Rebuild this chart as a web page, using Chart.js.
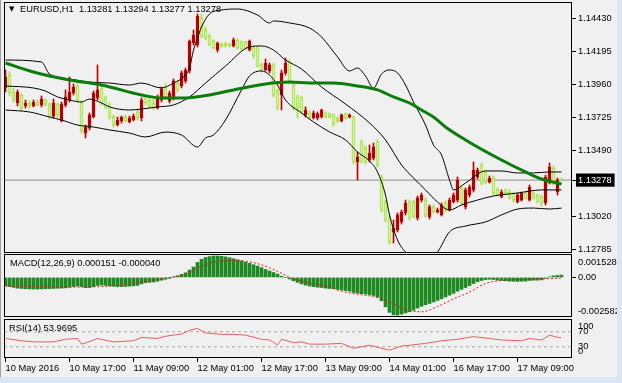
<!DOCTYPE html>
<html><head><meta charset="utf-8">
<script src="https://cdn.jsdelivr.net/npm/chart.js@4/dist/chart.umd.min.js"></script>
<style>
html,body{margin:0;padding:0;background:#f0f0f0;width:622px;height:383px;overflow:hidden;font-family:"Liberation Sans",Arial,sans-serif;}
canvas{position:absolute;left:0;}
.lbl{position:absolute;font-size:9.3px;color:#000;white-space:pre;line-height:11px;font-family:"Liberation Sans",Arial,sans-serif;}
#tri{position:absolute;left:9px;top:5px;font-size:7px;line-height:8px;font-family:"DejaVu Sans",sans-serif;color:#000;}
#rstrip{position:absolute;left:617px;top:0;width:5px;height:383px;background:#dbe6f4;}
#bstrip{position:absolute;left:0;top:377px;width:622px;height:6px;background:#dbe6f4;}
#lstrip{position:absolute;left:0;top:0;width:1px;height:377px;background:#a0a0a0;}
</style></head>
<body>
<canvas id="main" width="622" height="253" style="top:0px"></canvas>
<canvas id="macd" width="622" height="64" style="top:253px"></canvas>
<canvas id="rsi" width="622" height="61" style="top:317px"></canvas>
<div id="lstrip"></div><div id="rstrip"></div><div id="bstrip"></div>
<div id="tri">▼</div>
<div class="lbl" style="left:20px;top:4px">EURUSD,H1  1.13281 1.13294 1.13277 1.13278</div>
<div class="lbl" style="left:10px;top:258px">MACD(12,26,9) 0.000151 -0.000040</div>
<div class="lbl" style="left:9px;top:323px">RSI(14) 53.9695</div>
<script>
// ---------------- data ----------------
const timeLabels = ['10 May 2016','10 May 17:00','11 May 09:00','12 May 01:00','12 May 17:00','13 May 09:00','14 May 01:00','16 May 17:00','17 May 09:00'];
const timeTickBars = [0,16,32,48,64,80,96,112,128];
const priceTicks = [1.14430,1.14195,1.13960,1.13725,1.13490,1.13278,1.13020,1.12785];
const currentPrice = 1.13278;

const open = [
1.13934,1.14026,1.13905,1.13827,1.13884,1.13806,1.13827,1.13806,1.13834,1.13813,
1.13848,1.13813,1.13734,1.13820,1.13699,1.13813,1.13848,1.13898,1.13948,1.13827,
1.13613,1.13649,1.13727,1.13863,1.13934,1.13863,1.13813,1.13727,1.13670,1.13699,
1.13727,1.13692,1.13706,1.13763,1.13720,1.13863,1.13848,1.13827,1.13791,1.13848,
1.13948,1.13841,1.13863,1.13969,1.13948,1.13984,1.14055,1.14254,1.14240,1.14432,
1.14347,1.14304,1.14268,1.14204,1.14247,1.14247,1.14247,1.14233,1.14276,1.14261,
1.14261,1.14204,1.14219,1.14219,1.14098,1.14062,1.14055,1.14098,1.13912,1.13884,
1.14041,1.14119,1.13955,1.13870,1.13863,1.13742,1.13756,1.13720,1.13720,1.13727,
1.13756,1.13749,1.13742,1.13720,1.13699,1.13749,1.13727,1.13727,1.13407,1.13549,
1.13507,1.13421,1.13435,1.13549,1.13300,1.13122,1.13008,1.12909,1.12923,1.12980,
1.13044,1.13122,1.13122,1.13008,1.13136,1.13136,1.13015,1.13087,1.13051,1.13030,
1.13115,1.13065,1.13122,1.13136,1.13222,1.13087,1.13172,1.13208,1.13300,1.13386,
1.13336,1.13264,1.13293,1.13208,1.13158,1.13208,1.13193,1.13186,1.13122,1.13136,
1.13186,1.13136,1.13186,1.13172,1.13158,1.13115,1.13264,1.13364,1.13193,1.13281];
const high = [
1.14062,1.14048,1.13934,1.13920,1.13891,1.13848,1.13841,1.13848,1.13848,1.13877,
1.13855,1.13827,1.13855,1.13827,1.13834,1.13920,1.14012,1.13962,1.13962,1.13841,
1.13670,1.13756,1.13912,1.14098,1.13948,1.13877,1.13827,1.13742,1.13727,1.13734,
1.13742,1.13734,1.13749,1.13777,1.13863,1.13884,1.13877,1.13848,1.13884,1.13941,
1.13962,1.13912,1.13998,1.13984,1.14055,1.14076,1.14276,1.14347,1.14461,1.14461,
1.14368,1.14318,1.14276,1.14261,1.14254,1.14261,1.14254,1.14290,1.14283,1.14268,
1.14268,1.14276,1.14233,1.14226,1.14112,1.14140,1.14112,1.14112,1.13927,1.14062,
1.14147,1.14133,1.13969,1.13884,1.13877,1.13799,1.13770,1.13770,1.13763,1.13784,
1.13763,1.13756,1.13749,1.13727,1.13749,1.13756,1.13749,1.13734,1.13478,1.13564,
1.13521,1.13528,1.13542,1.13564,1.13314,1.13136,1.13022,1.12994,1.13044,1.13065,
1.13136,1.13136,1.13136,1.13165,1.13186,1.13151,1.13101,1.13101,1.13079,1.13115,
1.13129,1.13151,1.13186,1.13300,1.13236,1.13222,1.13243,1.13407,1.13364,1.13400,
1.13350,1.13307,1.13307,1.13222,1.13208,1.13215,1.13208,1.13193,1.13186,1.13193,
1.13193,1.13243,1.13193,1.13179,1.13172,1.13314,1.13400,1.13378,1.13293,1.13294];
const low = [
1.13905,1.13877,1.13834,1.13806,1.13777,1.13791,1.13791,1.13799,1.13806,1.13799,
1.13806,1.13713,1.13720,1.13727,1.13692,1.13799,1.13834,1.13884,1.13834,1.13613,
1.13578,1.13635,1.13720,1.13848,1.13813,1.13784,1.13713,1.13656,1.13663,1.13685,
1.13692,1.13685,1.13699,1.13706,1.13699,1.13813,1.13791,1.13777,1.13784,1.13834,
1.13855,1.13827,1.13848,1.13905,1.13934,1.13969,1.14041,1.14240,1.14226,1.14290,
1.14276,1.14233,1.14211,1.14190,1.14226,1.14226,1.14226,1.14226,1.14211,1.14204,
1.14211,1.14197,1.14147,1.14083,1.14048,1.14055,1.14041,1.13870,1.13777,1.13777,
1.14026,1.13962,1.13777,1.13720,1.13749,1.13727,1.13713,1.13713,1.13706,1.13720,
1.13720,1.13720,1.13663,1.13685,1.13692,1.13713,1.13720,1.13393,1.13279,1.13400,
1.13393,1.13407,1.13421,1.13371,1.13051,1.12980,1.12823,1.12830,1.12909,1.12965,
1.13030,1.12994,1.13008,1.12994,1.13122,1.13015,1.13001,1.13044,1.13044,1.13022,
1.13051,1.13058,1.13115,1.13122,1.13101,1.13072,1.13158,1.13193,1.13286,1.13243,
1.13250,1.13257,1.13172,1.13165,1.13151,1.13172,1.13143,1.13122,1.13115,1.13129,
1.13143,1.13129,1.13143,1.13115,1.13094,1.13101,1.13250,1.13243,1.13172,1.13277];
const close = [
1.14012,1.13898,1.13848,1.13905,1.13791,1.13827,1.13806,1.13834,1.13813,1.13855,
1.13820,1.13734,1.13827,1.13742,1.13820,1.13870,1.13905,1.13941,1.13848,1.13628,
1.13656,1.13742,1.13898,1.13920,1.13827,1.13799,1.13727,1.13670,1.13706,1.13727,
1.13699,1.13720,1.13734,1.13720,1.13848,1.13827,1.13799,1.13791,1.13870,1.13927,
1.13870,1.13898,1.13984,1.13920,1.14041,1.14062,1.14268,1.14311,1.14446,1.14304,
1.14290,1.14240,1.14219,1.14254,1.14233,1.14233,1.14233,1.14276,1.14219,1.14211,
1.14219,1.14268,1.14162,1.14090,1.14062,1.14112,1.14098,1.13884,1.13791,1.14041,
1.14112,1.13976,1.13791,1.13791,1.13763,1.13777,1.13720,1.13756,1.13749,1.13777,
1.13727,1.13727,1.13677,1.13699,1.13742,1.13720,1.13742,1.13407,1.13443,1.13407,
1.13407,1.13471,1.13514,1.13386,1.13065,1.12994,1.12837,1.12937,1.13030,1.13051,
1.13115,1.13008,1.13022,1.13151,1.13172,1.13030,1.13087,1.13051,1.13065,1.13101,
1.13065,1.13136,1.13172,1.13279,1.13115,1.13208,1.13229,1.13350,1.13350,1.13257,
1.13264,1.13293,1.13186,1.13172,1.13193,1.13186,1.13151,1.13136,1.13172,1.13186,
1.13151,1.13229,1.13151,1.13122,1.13115,1.13300,1.13371,1.13257,1.13279,1.13278];

// Bollinger bands (20) read at sample bars
const upperBar = [0,9,11,16,21,26,31,34,39,42,45,46,47,48,49,51,54,58,63,66,67,71,76,79,83,86,88,90,92,94,96,98,100,102,105,107,109,111,112,115,120,124,128,132,136,139];
const upperVal = [1.14133,1.14119,1.14033,1.13998,1.13976,1.13969,1.13955,1.13969,1.13934,1.13969,1.14026,1.14076,1.14204,1.14290,1.14368,1.14461,1.14489,1.14496,1.14453,1.14397,1.14411,1.14397,1.14361,1.14297,1.14155,1.14055,1.14076,1.14019,1.13934,1.14033,1.14062,1.14041,1.13955,1.13834,1.13670,1.13528,1.13457,1.13279,1.13208,1.13257,1.13343,1.13343,1.13329,1.13329,1.13336,1.13336];
const midBar = [0,7,10,13,16,19,21,24,26,31,34,38,42,46,50,55,61,64,67,70,74,79,85,91,95,99,102,105,108,111,114,118,122,128,134,139];
const midVal = [1.13948,1.13934,1.13912,1.13870,1.13848,1.13834,1.13855,1.13827,1.13799,1.13777,1.13784,1.13799,1.13813,1.13870,1.13969,1.14090,1.14226,1.14233,1.14204,1.14133,1.14069,1.13941,1.13820,1.13685,1.13564,1.13386,1.13293,1.13208,1.13122,1.13065,1.13101,1.13136,1.13165,1.13186,1.13208,1.13208];
const lowBar = [0,6,11,14,18,22,26,31,35,40,44,48,50,52,55,59,61,64,66,68,70,74,77,81,85,88,91,93,95,96,98,100,102,106,108,111,115,120,124,128,132,136,139];
const lowVal = [1.13777,1.13763,1.13727,1.13706,1.13670,1.13656,1.13635,1.13613,1.13585,1.13620,1.13599,1.13514,1.13578,1.13599,1.13706,1.13920,1.14019,1.14055,1.14026,1.13955,1.13848,1.13756,1.13692,1.13621,1.13564,1.13478,1.13414,1.13336,1.13172,1.13030,1.12852,1.12766,1.12723,1.12723,1.12766,1.12909,1.12951,1.12980,1.13030,1.13072,1.13079,1.13072,1.13079];
// moving average (thick green)
const maBar = [0,7,16,24,34,39,45,51,57,65,71,76,82,88,93,97,101,104,107,110,115,124,130,134,139];
const maVal = [1.14112,1.14048,1.13991,1.13955,1.13884,1.13863,1.13863,1.13884,1.13920,1.13962,1.13976,1.13969,1.13969,1.13948,1.13920,1.13870,1.13827,1.13777,1.13727,1.13656,1.13564,1.13421,1.13336,1.13286,1.13250];

// MACD
const macdHist = [
-0.00055,-0.0006,-0.00065,-0.0007,-0.00072,-0.00074,-0.00075,-0.00076,-0.00076,-0.00075,
-0.00074,-0.00073,-0.00072,-0.00071,-0.0007,-0.00068,-0.00064,-0.0006,-0.00056,-0.0006,
-0.00066,-0.00066,-0.0006,-0.00052,-0.0005,-0.00052,-0.00055,-0.00058,-0.0006,-0.0006,
-0.00059,-0.00057,-0.00055,-0.00052,-0.00042,-0.00035,-0.00032,-0.0003,-0.00025,-0.00018,
-0.00012,-0.00006,0.00002,0.0001,0.0002,0.0003,0.00048,0.00068,0.00098,0.00118,
0.0013,0.00136,0.0014,0.0014,0.00138,0.00134,0.00128,0.00122,0.00115,0.00108,
0.001,0.00092,0.00083,0.00074,0.00064,0.00052,0.00042,0.00032,0.00022,0.00008,
0.0,-0.0001,-0.00022,-0.00032,-0.00042,-0.0005,-0.00056,-0.0006,-0.00064,-0.00066,
-0.0007,-0.00072,-0.00074,-0.00078,-0.00082,-0.00086,-0.0009,-0.00098,-0.00103,-0.00106,
-0.00108,-0.00112,-0.00118,-0.00128,-0.00152,-0.00192,-0.00228,-0.00244,-0.00246,-0.0024,
-0.00232,-0.00224,-0.00214,-0.002,-0.00188,-0.00178,-0.0017,-0.0016,-0.0015,-0.0014,
-0.00128,-0.00116,-0.00104,-0.0009,-0.00078,-0.00066,-0.00054,-0.0004,-0.00028,-0.0002,
-0.00014,-0.00012,-0.00014,-0.00018,-0.0002,-0.00022,-0.00024,-0.00025,-0.00026,-0.00025,
-0.00024,-0.0002,-0.00018,-0.00018,-0.00016,-0.00006,0.00004,0.0001,0.00013,0.000151];
const signalBar = [0,8,16,24,32,36,40,44,48,52,56,60,64,68,72,76,80,84,88,92,96,100,104,108,112,116,120,124,128,132,136,139];
const signalVal = [-0.00056,-0.0006,-0.00063,-0.0006,-0.00036,-0.0002,-0.00005,0.00015,0.0006,0.001,0.0011,0.00106,0.00082,0.0004,-0.0001,-0.00036,-0.00055,-0.0009,-0.0011,-0.00125,-0.0016,-0.0021,-0.00224,-0.0019,-0.0014,-0.00096,-0.0004,-0.0002,-0.00014,-0.0001,-0.00008,-0.00004];
const macdRange = [-0.002582, 0.001528];
const macdTickValues = [0.001528, 0, -0.002582];
const macdTickLabels = ['0.001528','0.00','-0.002582'];

// RSI
const rsiBar = [0,4,7,12,15,18,19,20,23,27,32,34,38,40,44,46,48,50,54,57,60,64,66,68,69,72,74,76,80,84,87,91,94,96,99,101,105,109,113,117,121,124,129,131,134,136,138,139];
const rsiVal = [52,46,43,43,50,52,37,40,52,43,46,55,52,58,64,74,79,67,63,63,61,50,48,35,50,41,43,37,37,39,26,34,26,21,32,34,39,46,50,57,52,48,46,52,48,61,55,53.97];
const rsiLevels = [70, 30];
const rsiTickValues = [100, 70, 30, 0];
const rsiTickLabels = ['100','70','30','0'];

// ---------------- drawing ----------------
Chart.defaults.font.family = "'Liberation Sans', Arial, sans-serif";
Chart.defaults.font.size = 9.3;
Chart.defaults.color = '#000';

const X_MIN = -0.375, X_MAX = 141.625;
const bars = open.map((_, i) => i);
const isUp = i => close[i] > open[i];
const RED = '#c00000', RED_FILL = '#b00000', GRN = '#9fe23a', GRN_FILL = '#d4f7a6';

const framePlugin = {
  id: 'frame',
  afterDraw(chart) {
    const {ctx, chartArea: a} = chart;
    ctx.save();
    ctx.strokeStyle = '#000'; ctx.lineWidth = 1;
    ctx.strokeRect(Math.round(a.left) + 0.5, Math.round(a.top) + 0.5, Math.round(a.right - a.left) - 1, Math.round(a.bottom - a.top) - 1);
    ctx.restore();
  }
};

function xAxis(show) {
  const ax = {
    type: 'linear', min: X_MIN, max: X_MAX, offset: false, display: show,
    grid: {display: show, drawOnChartArea: false, drawTicks: true, tickLength: 4, color: '#000', offset: false},
    border: {display: false},
    afterFit: s => { s.paddingLeft = 0; s.paddingRight = 0; }
  };
  if (show) {
    ax.afterBuildTicks = s => { s.ticks = timeTickBars.map(v => ({value: v})); };
    ax.ticks = {callback: (v, i) => timeLabels[i], align: 'start', padding: 1, maxRotation: 0, autoSkip: false, color: '#000'};
    ax.afterFit = s => { s.height = 20; s.paddingLeft = 0; s.paddingRight = 0; };
  }
  return ax;
}

function labelTicks(values, labels, topFrac, botFrac) {
  return s => {
    const r = s.max - s.min;
    s.ticks = values.map((v, i) => ({
      value: i === 0 ? s.max - r * topFrac : (i === values.length - 1 ? s.min + r * botFrac : v),
      lbl: labels[i]
    }));
  };
}

function baseOptions(scales, padding) {
  return {
    responsive: false, animation: false, devicePixelRatio: 1, events: [],
    layout: {padding, autoPadding: false},
    plugins: {legend: {display: false}, tooltip: {enabled: false}, title: {display: false}},
    scales
  };
}

const pts = (xs, ys) => xs.map((x, i) => ({x, y: ys[i]}));
const hline = v => [{x: X_MIN, y: v}, {x: X_MAX, y: v}];
const lineDs = (data, color, width, order, extra) => Object.assign({
  type: 'line', data, borderColor: color, borderWidth: width, pointRadius: 0,
  tension: 0.4, cubicInterpolationMode: 'monotone', clip: 0, order
}, extra || {});

// main price chart
new Chart(document.getElementById('main'), {
  type: 'bar',
  data: {
    datasets: [
      lineDs(hline(currentPrice), '#8c8c8c', 1, 10, {tension: 0}),
      {
        type: 'bar', data: bars.map(i => ({x: i, y: [low[i], high[i]]})),
        barThickness: 1, grouped: false, order: 6, borderWidth: 0,
        backgroundColor: c => (c.dataIndex !== undefined && isUp(c.dataIndex)) ? RED : GRN
      },
      {
        type: 'bar', data: bars.map(i => ({x: i, y: [open[i], close[i]]})),
        barThickness: 3, grouped: false, order: 5, minBarLength: 1, borderWidth: 1, borderSkipped: false,
        backgroundColor: c => (c.dataIndex !== undefined && isUp(c.dataIndex)) ? RED_FILL : GRN_FILL,
        borderColor: c => (c.dataIndex !== undefined && isUp(c.dataIndex)) ? RED : GRN
      },
      lineDs(pts(upperBar, upperVal), '#000', 1, 3),
      lineDs(pts(midBar, midVal), '#000', 1, 3),
      lineDs(pts(lowBar, lowVal), '#000', 1, 3),
      lineDs(pts(maBar, maVal), '#0a7d0a', 3, 1)
    ]
  },
  options: baseOptions({
    x: xAxis(false),
    y: {
      position: 'right', min: 1.12759, max: 1.14546,
      afterBuildTicks: s => { s.ticks = priceTicks.map(v => ({value: v})); },
      ticks: {
        callback: v => v.toFixed(5), padding: 2, autoSkip: false,
        color: c => (c.tick && c.tick.value === currentPrice) ? '#fff' : '#000',
        showLabelBackdrop: c => !!(c.tick && c.tick.value === currentPrice),
        backdropColor: '#000', backdropPadding: {left: 2, right: 3, top: 1, bottom: 1}
      },
      grid: {drawOnChartArea: false, drawTicks: true, tickLength: 4, color: '#000'},
      border: {display: false},
      afterFit: s => { s.width = 45; s.paddingTop = 0; s.paddingBottom = 0; }
    }
  }, {left: 4, top: 2, right: 5, bottom: 0}),
  plugins: [framePlugin]
});

// MACD
new Chart(document.getElementById('macd'), {
  type: 'bar',
  data: {
    datasets: [
      {
        type: 'bar', data: bars.map(i => ({x: i, y: macdHist[i]})),
        barThickness: 3, grouped: false, order: 5, borderWidth: 0, backgroundColor: '#1f8a1f'
      },
      lineDs(pts(signalBar, signalVal), '#d42020', 1, 1, {borderDash: [2, 2]})
    ]
  },
  options: baseOptions({
    x: xAxis(false),
    y: {
      position: 'right', min: macdRange[0], max: macdRange[1],
      afterBuildTicks: labelTicks(macdTickValues, macdTickLabels, 0.127, 0.095),
      ticks: {callback: (v, i, t) => t[i].lbl, padding: 2, autoSkip: false, color: '#000'},
      grid: {drawOnChartArea: false, drawTicks: true, tickLength: 4,
             tickColor: c => (c.tick && c.tick.value === 0) ? '#000' : 'rgba(0,0,0,0)', color: 'rgba(0,0,0,0)'},
      border: {display: false},
      afterFit: s => { s.width = 45; s.paddingTop = 0; s.paddingBottom = 0; }
    }
  }, {left: 4, top: 1, right: 5, bottom: 0}),
  plugins: [framePlugin]
});

// RSI
new Chart(document.getElementById('rsi'), {
  type: 'line',
  data: {
    datasets: [
      ...rsiLevels.map(v => lineDs(hline(v), '#a8a8a8', 1, 5, {tension: 0, borderDash: [3, 3]})),
      lineDs(pts(rsiBar, rsiVal), '#e06060', 1, 1, {tension: 0, cubicInterpolationMode: 'default'})
    ]
  },
  options: baseOptions({
    x: xAxis(true),
    y: {
      position: 'right', min: 0, max: 104,
      afterBuildTicks: labelTicks(rsiTickValues, rsiTickLabels, 0.18, 0.18),
      ticks: {callback: (v, i, t) => t[i].lbl, padding: 2, autoSkip: false, color: '#000'},
      grid: {drawOnChartArea: false, drawTicks: true, tickLength: 4, color: 'rgba(0,0,0,0)'},
      border: {display: false},
      afterFit: s => { s.width = 45; s.paddingTop = 0; s.paddingBottom = 0; }
    }
  }, {left: 4, top: 2, right: 5, bottom: 0}),
  plugins: [framePlugin]
});
</script>
</body></html>
